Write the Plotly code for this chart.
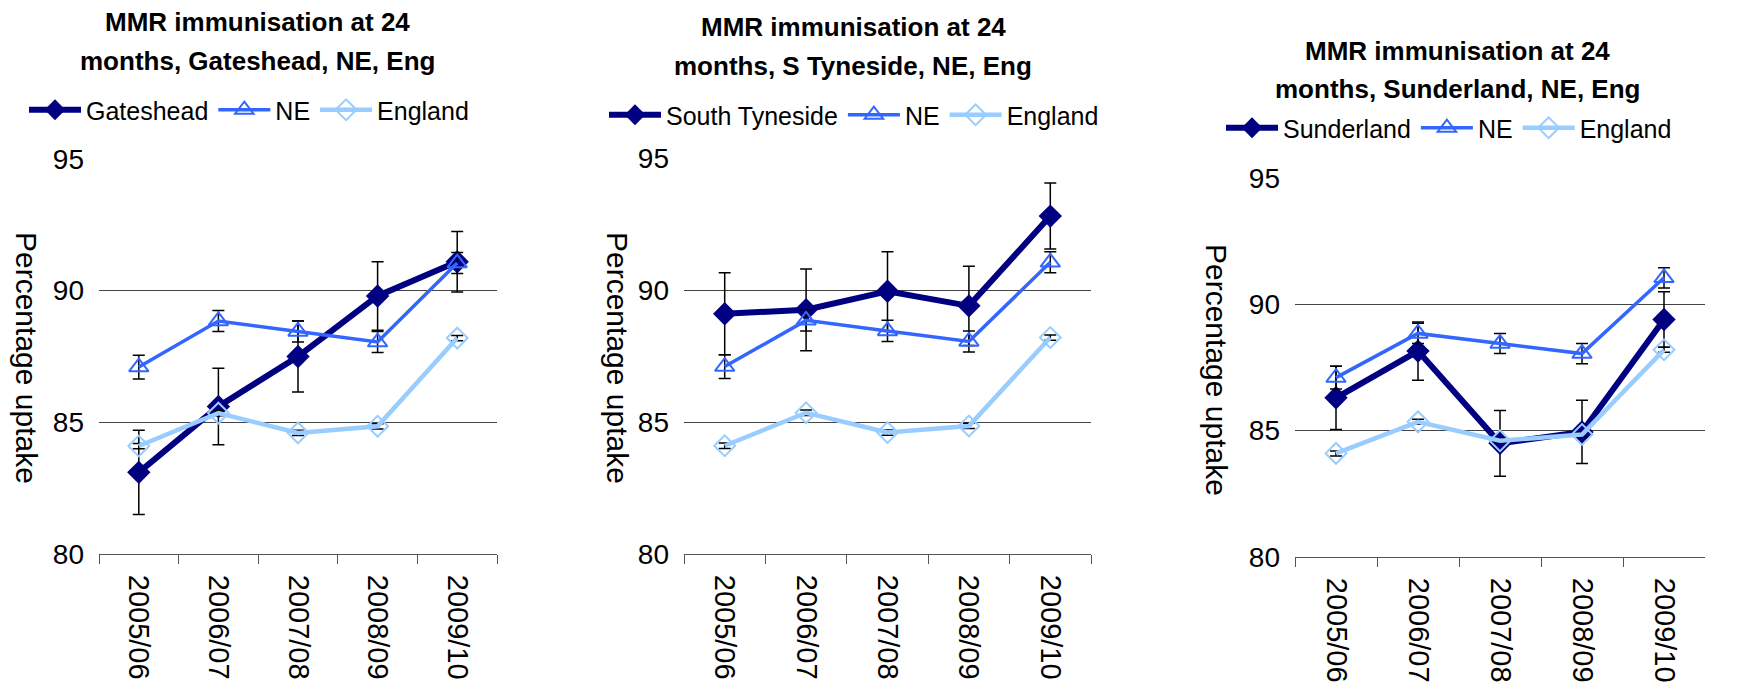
import plotly.graph_objects as go

# MMR uptake at 24 months
years = ["2005/06", "2006/07", "2007/08", "2008/09", "2009/10"]

gateshead = [83.1, 85.6, 87.5, 89.8, 91.1]
gateshead_err = [1.6, 1.45, 1.35, 1.3, 1.15]

s_tyneside = [89.1, 89.25, 89.95, 89.4, 92.8]
s_tyneside_err = [1.55, 1.55, 1.5, 1.5, 1.25]

sunderland = [86.3, 88.15, 84.5, 84.95, 89.4]
sunderland_err = [1.25, 1.15, 1.3, 1.25, 1.1]

ne = [87.1, 88.85, 88.45, 88.05, 91.05]
ne_err = [0.45, 0.4, 0.4, 0.4, 0.4]

england = [84.1, 85.35, 84.6, 84.85, 88.2]
england_err = [0.1, 0.1, 0.1, 0.1, 0.1]

panels = [
    ("Gateshead", "Gateshead", gateshead, gateshead_err),
    ("South Tyneside", "S Tyneside", s_tyneside, s_tyneside_err),
    ("Sunderland", "Sunderland", sunderland, sunderland_err),
]

# page body has an 8px margin, so the figure is a bit smaller than the window
OFF = 8
W, H = 1753 - OFF, 691 - OFF
FONT = "Liberation Sans, Arial, sans-serif"


def px(x):
    return (x - OFF) / W


def py(y):
    return 1 - (y - OFF) / H


# pixel boxes (window coords) of each plot area: left, right, top(95), bottom(80)
boxes = [(99, 497, 159, 554), (684, 1091, 158, 554), (1295, 1705, 178, 557)]
title_pos = [(258, 22, 61), (853, 27, 66), (1457, 51, 89)]
legend_pos = [(249, 110), (854, 115), (1449, 128)]
ylab_pos = [(27, 358), (618, 358), (1217, 370)]

fig = go.Figure()

err_style = dict(type="data", color="black", thickness=1.5, width=6)

for i, (name, short, vals, errs) in enumerate(panels):
    n = "" if i == 0 else str(i + 1)
    xa, ya, lg = "x" + n, "y" + n, "legend" + n
    fig.add_trace(go.Scatter(
        x=years, y=vals, name=name, xaxis=xa, yaxis=ya, legend=lg,
        mode="lines+markers",
        line=dict(color="#000080", width=6),
        marker=dict(symbol="diamond", size=18, color="#000080"),
        error_y=dict(array=errs, **err_style)))
    fig.add_trace(go.Scatter(
        x=years, y=ne, name="NE", xaxis=xa, yaxis=ya, legend=lg,
        mode="lines+markers",
        line=dict(color="#3366FF", width=3.5),
        marker=dict(symbol="triangle-up-open", size=17, color="#3366FF",
                    line=dict(width=2)),
        error_y=dict(array=ne_err, **err_style)))
    fig.add_trace(go.Scatter(
        x=years, y=england, name="England", xaxis=xa, yaxis=ya, legend=lg,
        mode="lines+markers",
        line=dict(color="#99CCFF", width=4.5),
        marker=dict(symbol="diamond-open", size=16, color="#99CCFF",
                    line=dict(width=2)),
        error_y=dict(array=england_err, **err_style)))

    l, r, t, b = boxes[i]
    fig.update_layout(**{
        "xaxis" + n: dict(
            domain=[px(l), px(r)], anchor=ya, type="category",
            tickson="boundaries", ticks="outside", ticklen=9,
            tickcolor="#555", showline=True, linecolor="#555",
            showgrid=False, tickangle=90, automargin=False,
            ticklabelstandoff=14,
            tickfont=dict(family=FONT, size=29, color="black"),
            range=[-0.5, 4.5]),
        "yaxis" + n: dict(
            domain=[py(b), py(t)], anchor=xa, range=[80, 95],
            tickvals=[80, 85, 90, 95], showgrid=True, gridcolor="#444",
            gridwidth=1, zeroline=False, showline=False, ticks="",
            ticklabelstandoff=14, automargin=False,
            tickfont=dict(family=FONT, size=28, color="black")),
        lg: dict(
            orientation="h", x=px(legend_pos[i][0]), xanchor="center",
            y=py(legend_pos[i][1]), yanchor="middle",
            font=dict(family=FONT, size=25, color="black"),
            bgcolor="rgba(0,0,0,0)", itemwidth=52, tracegroupgap=0),
    })

    tx, ty1, ty2 = title_pos[i]
    for text, ty in (("MMR immunisation at 24", ty1),
                     ("months, %s, NE, Eng" % short, ty2)):
        fig.add_annotation(
            x=px(tx), y=py(ty), xref="paper", yref="paper",
            xanchor="center", yanchor="middle",
            text="<b>%s</b>" % text, showarrow=False,
            font=dict(family=FONT, size=26, color="black"))
    fig.add_annotation(
        x=px(ylab_pos[i][0]), y=py(ylab_pos[i][1]), xref="paper", yref="paper",
        xanchor="center", yanchor="middle",
        text="Percentage uptake", textangle=90, showarrow=False,
        font=dict(family=FONT, size=30, color="black"))

fig.update_layout(
    width=W, height=H, margin=dict(l=0, r=0, t=0, b=0, autoexpand=False),
    plot_bgcolor="white", paper_bgcolor="white", showlegend=True)

fig.write_html("out.html")
